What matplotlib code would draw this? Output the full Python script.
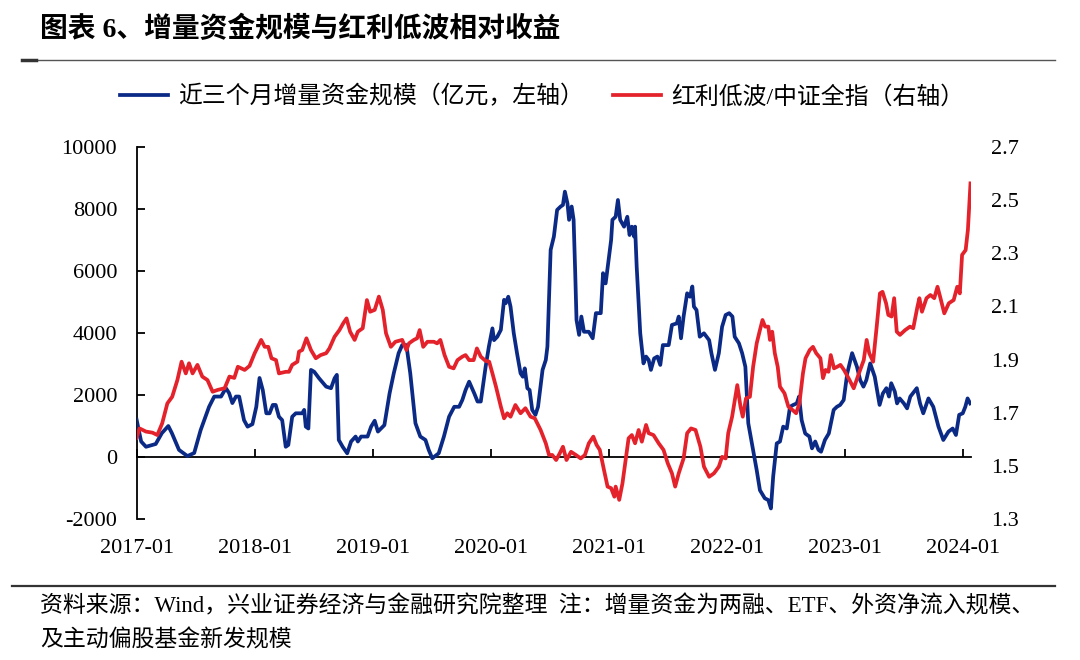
import pandas as pd
import matplotlib
matplotlib.use("Agg")
import matplotlib.pyplot as plt
from matplotlib.lines import Line2D

# weekly-ish readings of the two series
blue_dates = [
    "2017-01-01", "2017-01-15", "2017-01-30", "2017-03-01", "2017-03-20", "2017-04-09", "2017-04-20",
    "2017-05-12", "2017-06-07", "2017-06-28", "2017-07-18", "2017-08-13", "2017-08-29", "2017-09-19",
    "2017-10-04", "2017-10-14", "2017-10-24", "2017-11-04", "2017-11-14", "2017-11-29", "2017-12-10",
    "2017-12-25", "2018-01-06", "2018-01-16", "2018-01-26", "2018-02-06", "2018-02-16", "2018-02-26",
    "2018-03-07", "2018-03-17", "2018-03-27", "2018-04-07", "2018-04-15", "2018-04-27", "2018-05-08",
    "2018-05-28", "2018-06-03", "2018-06-08", "2018-06-16", "2018-06-24", "2018-07-04", "2018-07-19",
    "2018-08-10", "2018-08-25", "2018-09-05", "2018-09-12", "2018-09-18", "2018-09-30", "2018-10-14",
    "2018-10-26", "2018-11-09", "2018-11-16", "2018-11-26", "2018-12-16", "2018-12-27", "2019-01-07",
    "2019-01-17", "2019-02-06", "2019-02-22", "2019-03-07", "2019-03-22", "2019-04-02", "2019-04-15",
    "2019-04-27", "2019-05-13", "2019-05-28", "2019-06-13", "2019-06-23", "2019-07-04", "2019-07-24",
    "2019-08-09", "2019-08-25", "2019-09-10", "2019-09-25", "2019-10-05", "2019-10-15", "2019-10-26",
    "2019-11-11", "2019-11-21", "2019-12-01", "2019-12-16", "2019-12-26", "2020-01-06", "2020-01-11",
    "2020-01-21", "2020-02-01", "2020-02-11", "2020-02-16", "2020-02-24", "2020-03-02", "2020-03-12",
    "2020-03-22", "2020-04-02", "2020-04-09", "2020-04-15", "2020-04-23", "2020-04-30", "2020-05-08",
    "2020-05-18", "2020-05-26", "2020-06-09", "2020-06-19", "2020-06-24", "2020-07-04", "2020-07-14",
    "2020-07-24", "2020-08-04", "2020-08-11", "2020-08-17", "2020-08-25", "2020-08-30", "2020-09-07",
    "2020-09-13", "2020-09-18", "2020-09-22", "2020-09-30", "2020-10-07", "2020-10-15", "2020-10-30",
    "2020-11-11", "2020-11-21", "2020-12-06", "2020-12-13", "2020-12-21", "2021-01-07", "2021-01-11",
    "2021-01-21", "2021-01-28", "2021-02-04", "2021-02-16", "2021-02-26", "2021-03-05", "2021-03-12",
    "2021-03-19", "2021-03-22", "2021-03-27", "2021-04-07", "2021-04-17", "2021-04-25", "2021-05-03",
    "2021-05-10", "2021-05-20", "2021-05-30", "2021-06-08", "2021-06-16", "2021-07-04", "2021-07-14",
    "2021-07-29", "2021-08-04", "2021-08-11", "2021-08-19", "2021-08-30", "2021-09-08", "2021-09-15",
    "2021-09-20", "2021-09-28", "2021-10-08", "2021-10-21", "2021-11-06", "2021-11-13", "2021-11-24",
    "2021-12-06", "2021-12-16", "2021-12-27", "2022-01-07", "2022-01-17", "2022-01-24", "2022-02-06",
    "2022-02-16", "2022-02-26", "2022-03-07", "2022-03-22", "2022-04-02", "2022-04-12", "2022-04-27",
    "2022-05-08", "2022-05-16", "2022-05-23", "2022-06-03", "2022-06-13", "2022-06-23", "2022-07-04",
    "2022-07-14", "2022-07-24", "2022-08-04", "2022-08-11", "2022-08-19", "2022-08-30", "2022-09-12",
    "2022-09-20", "2022-09-30", "2022-10-10", "2022-10-18", "2022-10-30", "2022-11-11", "2022-11-26",
    "2022-12-06", "2022-12-16", "2022-12-27", "2023-01-07", "2023-01-22", "2023-02-06", "2023-02-16",
    "2023-02-26", "2023-03-07", "2023-03-19", "2023-04-02", "2023-04-17", "2023-04-27", "2023-05-08",
    "2023-05-16", "2023-05-23", "2023-06-03", "2023-06-10", "2023-06-18", "2023-07-01", "2023-07-11",
    "2023-07-21", "2023-08-10", "2023-08-20", "2023-08-30", "2023-09-15", "2023-09-30", "2023-10-16",
    "2023-10-31", "2023-11-16", "2023-11-29", "2023-12-09", "2023-12-19", "2023-12-30", "2024-01-07",
    "2024-01-14", "2024-01-22",
]
blue_vals = [
    1200, 500, 330, 420, 770, 1000, 770,
    230, 30, 130, 870, 1620, 1950, 1950,
    2220, 2060, 1740, 1950, 1950, 1190, 980,
    1060, 1620, 2550, 2160, 1410, 1410, 1680,
    1680, 1300, 1190, 330, 390, 1300, 1410,
    1410, 1520, 980, 920, 2810, 2750, 2540,
    2270, 2220, 2540, 2650, 550, 330, 120,
    500, 660, 500, 660, 660, 980, 1170,
    820, 1030, 2050, 2700, 3350, 3610, 3610,
    2700, 1090, 660, 550, 230, -40, 120,
    660, 1300, 1620, 1620, 1840, 2160, 2430,
    2050, 1790, 1790, 2910, 3560, 4150, 3770,
    3880, 4100, 5070, 4960, 5170, 4850, 3990,
    3350, 2700, 2590, 2860, 2220, 2160, 1520,
    1360, 1620, 2810, 3130, 3560, 6680, 7110,
    7970, 8080, 8130, 8560, 8180, 7650, 8080,
    7650, 5930, 4420, 3940, 4530, 4040, 4040,
    3830, 4640, 4640, 5930, 5600, 7000, 7650,
    7750, 8290, 7650, 7430, 7750, 7160, 7430,
    7110, 7430, 6140, 3990, 3020, 3240, 3130,
    2810, 3180, 3240, 2970, 3610, 3610, 4260,
    4310, 4530, 3830, 4530, 5280, 5170, 5500,
    4850, 4740, 3880, 3990, 3770, 3350, 2810,
    3350, 4200, 4580, 4640, 4530, 3880, 3670,
    3350, 2910, 1090, 230, -420, -1070, -1330,
    -1390, -1660, -630, 440, 500, 980, 920,
    1620, 1680, 1730, 1950, 1190, 760, 660,
    280, 500, 230, 170, 550, 760, 1520,
    1620, 1680, 1840, 2700, 3350, 2910, 2480,
    2270, 2480, 3020, 2590, 1680, 2050, 2220,
    1950, 2380, 2110, 1730, 1890, 1730, 1570,
    1950, 2220, 1730, 1410, 1890, 1620, 980,
    550, 820, 920, 710, 1360, 1410, 1620,
    1890, 1730,
]

red_dates = [
    "2017-01-01", "2017-01-10", "2017-01-30", "2017-02-19", "2017-03-06", "2017-03-21", "2017-04-06",
    "2017-04-21", "2017-05-07", "2017-05-20", "2017-06-02", "2017-06-12", "2017-06-23", "2017-07-08",
    "2017-07-23", "2017-08-08", "2017-08-24", "2017-09-09", "2017-09-30", "2017-10-15", "2017-10-30",
    "2017-11-10", "2017-12-01", "2017-12-16", "2018-01-01", "2018-01-21", "2018-02-01", "2018-02-12",
    "2018-02-22", "2018-03-08", "2018-03-17", "2018-04-07", "2018-04-17", "2018-04-27", "2018-05-13",
    "2018-05-18", "2018-05-28", "2018-06-10", "2018-06-24", "2018-07-09", "2018-07-24", "2018-08-10",
    "2018-08-20", "2018-09-05", "2018-09-20", "2018-10-02", "2018-10-12", "2018-10-23", "2018-11-06",
    "2018-11-16", "2018-12-01", "2018-12-14", "2018-12-24", "2019-01-07", "2019-01-20", "2019-02-01",
    "2019-02-11", "2019-02-26", "2019-03-12", "2019-04-02", "2019-04-15", "2019-04-23", "2019-05-08",
    "2019-05-18", "2019-05-26", "2019-06-06", "2019-06-19", "2019-07-09", "2019-07-19", "2019-07-29",
    "2019-08-11", "2019-08-25", "2019-09-08", "2019-09-20", "2019-10-05", "2019-10-15", "2019-10-26",
    "2019-11-09", "2019-11-19", "2019-12-01", "2019-12-16", "2019-12-27", "2020-01-06", "2020-01-17",
    "2020-02-01", "2020-02-11", "2020-02-21", "2020-03-02", "2020-03-17", "2020-04-02", "2020-04-17",
    "2020-05-03", "2020-05-16", "2020-06-03", "2020-06-19", "2020-06-29", "2020-07-09", "2020-07-21",
    "2020-08-01", "2020-08-11", "2020-08-22", "2020-09-05", "2020-09-20", "2020-10-05", "2020-10-18",
    "2020-10-30", "2020-11-13", "2020-11-23", "2020-12-03", "2020-12-16", "2020-12-27", "2021-01-07",
    "2021-01-17", "2021-01-21", "2021-02-01", "2021-02-11", "2021-02-21", "2021-03-02", "2021-03-12",
    "2021-03-22", "2021-04-02", "2021-04-12", "2021-04-25", "2021-05-03", "2021-05-18", "2021-06-03",
    "2021-06-18", "2021-07-01", "2021-07-14", "2021-07-24", "2021-08-04", "2021-08-19", "2021-08-30",
    "2021-09-11", "2021-09-25", "2021-10-10", "2021-10-21", "2021-11-06", "2021-11-21", "2021-12-06",
    "2021-12-16", "2021-12-27", "2022-01-04", "2022-01-16", "2022-02-01", "2022-02-11", "2022-02-18",
    "2022-02-28", "2022-03-12", "2022-03-22", "2022-04-02", "2022-04-12", "2022-04-20", "2022-04-28",
    "2022-05-08", "2022-05-13", "2022-05-20", "2022-05-28", "2022-06-06", "2022-06-13", "2022-06-27",
    "2022-07-09", "2022-07-22", "2022-08-02", "2022-08-12", "2022-08-23", "2022-08-31", "2022-09-13",
    "2022-09-23", "2022-10-03", "2022-10-16", "2022-10-24", "2022-11-01", "2022-11-10", "2022-11-17",
    "2022-11-27", "2022-12-07", "2022-12-17", "2022-12-28", "2023-01-11", "2023-01-27", "2023-02-12",
    "2023-02-27", "2023-03-08", "2023-03-16", "2023-03-28", "2023-04-08", "2023-04-18", "2023-04-26",
    "2023-05-07", "2023-05-14", "2023-05-24", "2023-06-01", "2023-06-09", "2023-06-19", "2023-07-05",
    "2023-07-20", "2023-07-30", "2023-08-12", "2023-08-18", "2023-08-26", "2023-09-09", "2023-09-21",
    "2023-10-03", "2023-10-13", "2023-10-21", "2023-11-03", "2023-11-17", "2023-12-02", "2023-12-13",
    "2023-12-21", "2023-12-28", "2024-01-08", "2024-01-15", "2024-01-23",
]
red_vals = [
    1.605, 1.641, 1.629, 1.625, 1.616, 1.660, 1.735,
    1.760, 1.823, 1.892, 1.848, 1.886, 1.848, 1.880,
    1.836, 1.823, 1.779, 1.786, 1.792, 1.836, 1.831,
    1.873, 1.861, 1.876, 1.924, 1.974, 1.948, 1.948,
    1.905, 1.898, 1.848, 1.854, 1.854, 1.880, 1.892,
    1.930, 1.936, 1.980, 1.936, 1.905, 1.917, 1.924,
    1.942, 1.986, 2.011, 2.037, 2.055, 2.005, 1.974,
    2.005, 2.018, 2.124, 2.080, 2.087, 2.137, 2.087,
    1.999, 1.948, 1.967, 1.974, 1.936, 1.961, 1.974,
    1.980, 2.011, 1.948, 1.967, 1.967, 1.961, 1.974,
    1.917, 1.873, 1.867, 1.898, 1.911, 1.917, 1.898,
    1.898, 1.942, 1.911, 1.895, 1.892, 1.848, 1.798,
    1.723, 1.679, 1.698, 1.685, 1.729, 1.698, 1.717,
    1.685, 1.679, 1.635, 1.585, 1.541, 1.541, 1.522,
    1.547, 1.572, 1.522, 1.553, 1.541, 1.528, 1.541,
    1.585, 1.610, 1.579, 1.560, 1.484, 1.422, 1.416,
    1.384, 1.422, 1.372, 1.434, 1.522, 1.604, 1.616,
    1.585, 1.635, 1.591, 1.654, 1.623, 1.616, 1.585,
    1.560, 1.510, 1.472, 1.422, 1.472, 1.528, 1.623,
    1.641, 1.635, 1.572, 1.497, 1.459, 1.472, 1.497,
    1.534, 1.528, 1.623, 1.685, 1.804, 1.723, 1.685,
    1.754, 1.760, 1.873, 1.961, 2.011, 2.049, 2.024,
    2.024, 1.974, 2.005, 1.924, 1.873, 1.798, 1.773,
    1.723, 1.710, 1.698, 1.735, 1.848, 1.905, 1.936,
    1.948, 1.924, 1.905, 1.830, 1.861, 1.854, 1.917,
    1.867, 1.873, 1.880, 1.861, 1.830, 1.792, 1.848,
    1.898, 1.974, 1.924, 1.892, 2.024, 2.149, 2.155,
    2.112, 2.068, 2.062, 2.131, 2.005, 1.993, 2.011,
    2.024, 2.018, 2.099, 2.131, 2.080, 2.131, 2.143,
    2.131, 2.174, 2.137, 2.074, 2.112, 2.124, 2.174,
    2.149, 2.294, 2.312, 2.388, 2.563,
]

year_ticks = ["2017-01", "2018-01", "2019-01", "2020-01", "2021-01", "2022-01", "2023-01", "2024-01"]
left_ticks = [-2000, 0, 2000, 4000, 6000, 8000, 10000]
right_ticks = [1.3, 1.5, 1.7, 1.9, 2.1, 2.3, 2.5, 2.7]

BLUE = "#0B2A85"
RED = "#E4222B"
CJK = ["Liberation Serif", "Noto Sans CJK SC"]


def main():
    plt.rcParams["font.family"] = CJK
    fig = plt.figure(figsize=(10.8, 6.6), dpi=100)
    ax = fig.add_axes([0.1265, 0.2136, 0.773, 0.5637])
    ax2 = ax.twinx()

    #blue series on the left axis
    l1, = ax.plot(pd.to_datetime(blue_dates), blue_vals, color=BLUE, lw=2.7, zorder=3)
    #red series on the right axis
    l2, = ax2.plot(pd.to_datetime(red_dates), red_vals, color=RED, lw=2.7, zorder=3)

    ax.set_ylim(-2000, 10000)
    ax2.set_ylim(1.3, 2.7)
    ax.set_xlim(pd.Timestamp("2017-01-01"), pd.Timestamp("2024-01-26"))

    ax.set_yticks(left_ticks)
    ax.set_yticklabels([str(v) for v in left_ticks], fontsize=16, family="Liberation Serif")
    ax2.set_yticks(right_ticks)
    ax2.set_yticklabels([f"{v:.1f}" for v in right_ticks], fontsize=16, family="Liberation Serif")

    #x axis sits on the zero line, labels go below the plot
    ticks = pd.to_datetime(year_ticks)
    ax.set_xticks(ticks)
    ax.spines["bottom"].set_position(("data", 0))
    ax.tick_params(axis="x", direction="in", length=6, width=1.3, labelbottom=False)
    for t, lab in zip(ticks, year_ticks):
        ax.text(t, -0.078, lab, transform=ax.get_xaxis_transform(), ha="center", va="center",
                fontsize=16, family="Liberation Serif")

    ax.tick_params(axis="y", direction="in", length=6, width=1.3, pad=14)
    ax2.tick_params(axis="y", length=0, pad=14)
    for s in ["top", "right"]:
        ax.spines[s].set_visible(False)
    for s in ax2.spines.values():
        s.set_visible(False)
    ax.spines["left"].set_linewidth(1.3)
    ax.spines["bottom"].set_linewidth(1.3)

    fig.legend([l1, l2], ["近三个月增量资金规模（亿元，左轴）", "红利低波/中证全指（右轴）"],
               loc="center", bbox_to_anchor=(0.502, 0.853), ncol=2, frameon=False,
               fontsize=17.2, handlelength=2.0, handletextpad=0.45, columnspacing=1.2)

    #title and separators
    fig.text(0.037, 0.955, "图表 6、增量资金规模与红利低波相对收益", fontsize=20, fontweight="bold",
             ha="left", va="center")
    fig.add_artist(Line2D([0.020, 0.977], [0.909, 0.909], color="#555555", lw=1.0))
    fig.add_artist(Line2D([0.020, 0.033], [0.909, 0.909], color="#333333", lw=2.5))
    fig.add_artist(Line2D([0.011, 0.977], [0.112, 0.112], color="#333333", lw=1.6))

    #source / note footer
    fig.text(0.037, 0.082, "资料来源：Wind，兴业证券经济与金融研究院整理  注：增量资金为两融、ETF、外资净流入规模、",
             fontsize=16.5, ha="left", va="center")
    fig.text(0.037, 0.030, "及主动偏股基金新发规模", fontsize=16.5, ha="left", va="center")

    fig.savefig("out.png", dpi=100)


if __name__ == "__main__":
    main()
